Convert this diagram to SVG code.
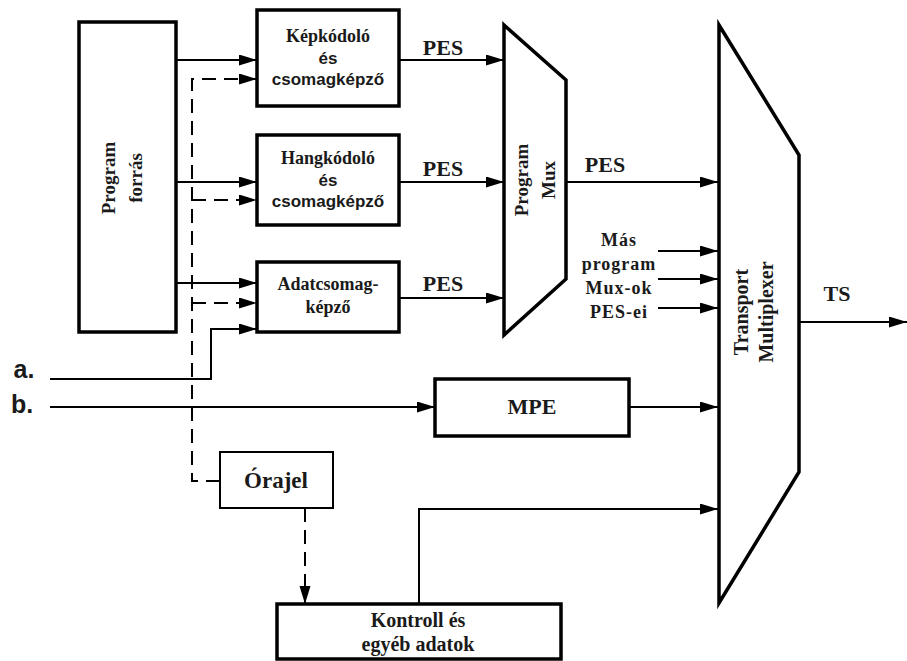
<svg xmlns="http://www.w3.org/2000/svg" width="907" height="661" viewBox="0 0 907 661">
<defs>
<marker id="arr" markerUnits="userSpaceOnUse" markerWidth="20" markerHeight="12" refX="18" refY="5.5" orient="auto">
<path d="M0,0 L18,5.5 L0,11 z" fill="#000"/>
</marker>
<style>
.box{fill:#fff;stroke:#000;stroke-width:3.5}
.thin{fill:#fff;stroke:#000;stroke-width:2}
.c{fill:none;stroke:#000;stroke-width:2}
.d{fill:none;stroke:#000;stroke-width:2;stroke-dasharray:14 8}
.t{font-family:"Liberation Serif","Times New Roman",serif;font-weight:bold;fill:#1a1a1a;text-anchor:middle}
.s{font-family:"Liberation Sans",Arial,sans-serif;font-weight:bold;fill:#1a1a1a;text-anchor:middle}
</style>
</defs>
<rect width="907" height="661" fill="#fff"/>

<g id="connectors">
<path class="c" d="M176 60 H257" marker-end="url(#arr)"/>
<path class="c" d="M176 182 H257" marker-end="url(#arr)"/>
<path class="c" d="M176 283 H257" marker-end="url(#arr)"/>
<path class="d" d="M220 481 H192 V79 H257" marker-end="url(#arr)"/>
<path class="d" d="M192 200 H257" marker-end="url(#arr)"/>
<path class="d" d="M192 303 H257" marker-end="url(#arr)"/>
<path class="c" d="M50 379 H211 V329 H257" marker-end="url(#arr)"/>
<path class="c" d="M50 407 H435" marker-end="url(#arr)"/>
<path class="c" d="M399 60 H504" marker-end="url(#arr)"/>
<path class="c" d="M399 182 H504" marker-end="url(#arr)"/>
<path class="c" d="M399 298 H504" marker-end="url(#arr)"/>
<path class="c" d="M566 182 H718" marker-end="url(#arr)"/>
<path class="c" d="M658 251 H718" marker-end="url(#arr)"/>
<path class="c" d="M658 279 H718" marker-end="url(#arr)"/>
<path class="c" d="M658 308 H718" marker-end="url(#arr)"/>
<path class="c" d="M629 407 H718" marker-end="url(#arr)"/>
<path class="c" d="M419 604 V509 H718" marker-end="url(#arr)"/>
<path class="d" d="M305 508 V604" marker-end="url(#arr)"/>
<path class="c" d="M799 322 H907" marker-end="url(#arr)"/>
<text class="t" x="443" y="55" font-size="22">PES</text>
<text class="t" x="443" y="176" font-size="22">PES</text>
<text class="t" x="443" y="291" font-size="22">PES</text>
<text class="t" x="605" y="172" font-size="22">PES</text>
<text class="t" x="837" y="301" font-size="22">TS</text>
<text class="t" font-size="18" letter-spacing="1" x="619" y="246">Más</text>
<text class="t" font-size="18" letter-spacing="1" x="619" y="270">program</text>
<text class="t" font-size="18" letter-spacing="1" x="619" y="294">Mux-ok</text>
<text class="t" font-size="18" letter-spacing="1" x="619" y="318">PES-ei</text>
<text class="s" font-size="25" x="24" y="378">a.</text>
<text class="s" font-size="25" x="22" y="413">b.</text>
</g>

<g id="program-forras">
<rect class="box" x="79" y="22" width="97" height="310"/>
<text class="t" font-size="19" transform="translate(115,178) rotate(-90)">Program</text>
<text class="t" font-size="19" transform="translate(142,178) rotate(-90)">forrás</text>
</g>

<g id="kepkodolo">
<rect class="box" x="257" y="10" width="142" height="96"/>
<text class="t" font-size="18" x="328" y="42">Képkódoló</text>
<text class="s" font-size="17" x="328" y="64">és</text>
<text class="s" font-size="17" x="328" y="85">csomagképző</text>
</g>

<g id="hangkodolo">
<rect class="box" x="257" y="135" width="142" height="90"/>
<text class="t" font-size="18" x="328" y="164">Hangkódoló</text>
<text class="s" font-size="17" x="328" y="186">és</text>
<text class="s" font-size="17" x="328" y="207">csomagképző</text>
</g>

<g id="adatcsomag">
<rect class="box" x="257" y="262" width="142" height="70"/>
<text class="t" font-size="18" x="328" y="290">Adatcsomag-</text>
<text class="t" font-size="18" x="328" y="313">képző</text>
</g>

<g id="program-mux">
<path class="box" d="M504 25 L566 80 L566 279 L504 335 Z"/>
<text class="t" font-size="19" transform="translate(528,180) rotate(-90)">Program</text>
<text class="t" font-size="19" transform="translate(555,180) rotate(-90)">Mux</text>
</g>

<g id="transport-mux">
<path class="box" d="M719 25 L799 155 L799 472 L719 603 Z"/>
<text class="t" font-size="20" transform="translate(748,312) rotate(-90)">Transport</text>
<text class="t" font-size="20" transform="translate(773,312) rotate(-90)">Multiplexer</text>
</g>

<g id="mpe">
<rect class="box" x="435" y="379" width="194" height="57"/>
<text class="t" font-size="22" x="532" y="414">MPE</text>
</g>

<g id="orajel">
<rect class="thin" x="220" y="452" width="113" height="56"/>
<text class="t" font-size="23" x="276" y="488">Órajel</text>
</g>

<g id="kontroll">
<rect class="box" x="277" y="604" width="284" height="55"/>
<text class="t" font-size="20" x="418" y="627">Kontroll és</text>
<text class="t" font-size="20" x="418" y="651">egyéb adatok</text>
</g>
</svg>
